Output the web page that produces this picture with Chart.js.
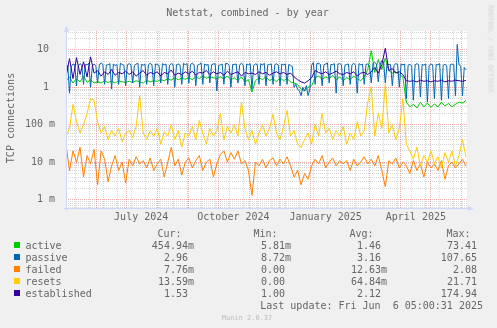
<!DOCTYPE html>
<html>
<head>
<meta charset="utf-8">
<title>Netstat, combined - by year</title>
<script src="https://cdn.jsdelivr.net/npm/chart.js@4.4.1/dist/chart.umd.min.js"></script>
<style>
  html, body { margin: 0; padding: 0; background: #f0f0f0; }
  #wrap {
    position: relative; width: 497px; height: 328px; overflow: hidden; background: #f0f0f0;
    font-family: "DejaVu Sans Mono", monospace; font-size: 10px; line-height: 12px; color: #666666;
  }
  #wrap canvas { position: absolute; left: 0; top: 0; }
  .t { position: absolute; white-space: pre; }
  .sq { position: absolute; width: 6px; height: 6px; }
</style>
</head>
<body>
<div id="wrap">
  <canvas id="netstat-chart" width="497" height="328"></canvas>
</div>
<script>
// Series values, one sample every 3.5 days starting at the left edge (2 May 2024)
var active = [
  1.5, 1.9, 1.3, 1.7, 1.4, 2.0, 1.35, 1.6, 1.3,
  1.4, 1.3, 1.5, 1.35, 1.45, 1.3, 1.5, 1.4, 1.35,
  1.45, 1.35, 1.5, 1.4, 1.3, 1.55, 1.4, 1.5,
  1.45, 1.6, 1.5, 1.7, 1.55, 1.8, 1.6, 1.75, 1.65,
  1.8, 1.6, 1.9, 1.7, 2.0, 1.75, 1.9, 1.8, 1.7,
  1.9, 1.7, 2.0, 1.6, 1.8, 1.5, 1.9, 1.4, 1.6,
  0.75, 1.5, 1.8, 1.6, 1.9, 1.5, 1.7, 1.4,
  1.8, 1.5, 1.7, 1.4, 1.3, 1.2, 0.9, 0.8, 1.0,
  1.1, 1.8, 2.0, 1.6, 1.9, 1.7, 2.1, 1.6, 1.9,
  1.5, 1.8, 1.6, 2.0, 1.7, 1.5, 1.9, 3.0,
  9.5, 2.5, 5.5, 3.0, 6.0, 2.8, 2.4, 2.6, 2.2,
  1.9, 0.4, 0.3, 0.35, 0.28, 0.4, 0.3, 0.38, 0.29,
  0.36, 0.3, 0.4, 0.32, 0.37, 0.3, 0.35, 0.4, 0.38, 0.45
];
// passive has a strong weekly pattern, so it is read at a finer step (4 per week)
var passive = [
  1.8, 3.9, 0.7, 3.6,   4.2, 4.0, 1.1, 3.8,   4.3, 3.9, 1.2, 4.1,   4.0, 4.4, 1.0, 3.7,
  4.2, 3.8, 1.3, 4.0,   4.5, 4.1, 1.2, 3.9,   4.0, 4.3, 0.9, 4.2,   3.8, 4.1, 1.2, 4.4,
  4.1, 3.9, 1.1, 4.0,   4.3, 4.0, 1.3, 3.8,   4.2, 4.4, 1.0, 4.1,   3.9, 4.2, 1.2, 4.0,
  4.4, 4.0, 1.1, 4.2,   4.1, 3.8, 1.3, 4.3,   4.0, 4.2, 1.2, 3.9,   4.3, 4.1, 1.0, 4.0,
  4.2, 3.9, 1.2, 4.4,   4.0, 4.3, 1.3, 4.1,   4.4, 4.0, 1.1, 3.9,   4.1, 4.5, 1.2, 4.2,
  3.9, 4.1, 1.3, 4.0,   4.2, 4.3, 0.8, 3.8,   4.0, 4.2, 1.2, 4.4,   4.3, 3.9, 1.0, 4.1,
  4.1, 4.2, 1.3, 4.0,   4.4, 4.0, 1.1, 4.2,   4.0, 4.3, 0.9, 3.9,   4.2, 4.1, 1.2, 4.3,
  3.9, 4.4, 1.1, 4.0,   4.1, 4.2, 1.2, 4.0,   4.3, 3.9, 1.1, 4.2,   4.0, 4.2, 1.2, 4.1,
  3.8, 3.6, 1.0, 1.2,   0.9, 0.8, 0.6, 1.0,   0.8, 1.1, 0.6, 0.9,   3.9, 4.6, 1.2, 4.3,
  4.4, 4.1, 1.1, 4.0,   4.2, 4.5, 1.3, 4.1,   4.0, 4.3, 0.7, 4.2,   4.3, 4.0, 1.1, 3.9,
  4.1, 4.2, 1.2, 4.0,   4.4, 3.9, 0.7, 4.3,   4.0, 4.2, 1.2, 4.1,   4.2, 3.8, 1.3, 4.4,
  4.6, 4.2, 1.4, 4.0,   5.2, 4.8, 1.3, 4.2,   4.1, 4.0, 1.1, 3.9,   4.3, 4.1, 1.0, 4.2,
  4.0, 4.2, 0.5, 3.9,   4.1, 3.8, 0.45, 4.0,  4.3, 4.0, 0.55, 4.1,  3.9, 4.2, 0.4, 3.8,
  4.2, 4.0, 0.5, 4.1,   4.0, 4.3, 0.45, 3.9,  4.1, 3.8, 0.5, 4.0,   4.2, 4.0, 0.6, 14,
  4.0, 3.7, 0.6, 3.4,   2.96
];
var failed = [
  0.03, 0.006, 0.02, 0.01, 0.025, 0.004, 0.015, 0.009, 0.022,
  0.0025, 0.02, 0.012, 0.003, 0.008, 0.015, 0.006, 0.01, 0.0028,
  0.012, 0.008, 0.014, 0.009, 0.011, 0.007, 0.013, 0.006,
  0.009, 0.012, 0.004, 0.01, 0.025, 0.008, 0.012, 0.0045, 0.01,
  0.013, 0.007, 0.011, 0.015, 0.006, 0.01, 0.012, 0.004, 0.009,
  0.016, 0.02, 0.01, 0.018, 0.012, 0.02, 0.009, 0.011, 0.006,
  0.0013, 0.01, 0.008, 0.012, 0.007, 0.011, 0.013, 0.008,
  0.012, 0.009, 0.014, 0.008, 0.004, 0.006, 0.0025, 0.005, 0.0035,
  0.008, 0.012, 0.009, 0.015, 0.007, 0.01, 0.013, 0.008, 0.011,
  0.009, 0.011, 0.006, 0.012, 0.008, 0.01, 0.014, 0.009,
  0.012, 0.008, 0.015, 0.006, 0.0022, 0.011, 0.009, 0.013, 0.007,
  0.01, 0.008, 0.005, 0.011, 0.006, 0.009, 0.004, 0.01, 0.007,
  0.009, 0.006, 0.011, 0.0035, 0.008, 0.01, 0.007, 0.009, 0.012, 0.0078
];
var resets = [
  0.05, 0.08, 0.35, 0.12, 0.06, 0.1, 0.2, 0.5, 0.45,
  0.12, 0.06, 0.09, 0.04, 0.07, 0.05, 0.08, 0.035, 0.06,
  0.07, 0.045, 0.09, 0.6, 0.06, 0.04, 0.07, 0.05,
  0.08, 0.03, 0.065, 0.05, 0.1, 0.04, 0.07, 0.025, 0.06,
  0.05, 0.09, 0.04, 0.13, 0.06, 0.03, 0.08, 0.05, 0.07,
  0.2, 0.04, 0.09, 0.06, 0.1, 0.05, 0.4, 0.08, 0.04,
  0.07, 0.03, 0.06, 0.1, 0.05, 0.08, 0.19, 0.06,
  0.04, 0.09, 0.24, 0.05, 0.07, 0.03, 0.025, 0.04, 0.06,
  0.03, 0.1, 0.05, 0.2, 0.06, 0.08, 0.04, 0.07, 0.05,
  0.09, 0.03, 0.06, 0.04, 0.12, 0.05, 0.07, 0.4,
  1.0, 0.05, 0.2, 0.08, 1.2, 0.06, 0.1, 0.04, 0.08,
  0.5, 0.03, 0.02, 0.012, 0.025, 0.008, 0.015, 0.01, 0.02,
  0.009, 0.014, 0.007, 0.018, 0.01, 0.02, 0.008, 0.015, 0.04, 0.0136
];
var established = [
  2.0, 5.8, 1.7, 6.2, 2.2, 4.8, 1.9, 6.5, 2.4,
  2.8, 2.0, 2.6, 2.2, 3.0, 2.1, 2.5, 2.3, 2.7,
  2.2, 2.6, 2.0, 2.4, 2.8, 2.1, 2.5, 2.3,
  2.6, 2.0, 2.5, 2.3, 2.9, 2.1, 2.4, 2.2, 2.6,
  2.3, 2.7, 2.1, 2.5, 2.4, 2.8, 2.2, 2.6, 2.3,
  2.5, 2.1, 2.7, 2.2, 2.4, 2.6, 2.0, 2.5, 2.3,
  2.4, 2.2, 2.6, 2.3, 2.5, 2.1, 2.4, 2.6,
  2.3, 2.5, 2.2, 2.4, 1.9, 1.6, 1.4, 1.3, 1.5,
  1.8, 2.8, 2.5, 2.3, 2.6, 2.2, 2.4, 2.7, 2.3,
  2.2, 2.5, 2.3, 2.6, 2.0, 2.4, 2.5, 2.2,
  2.6, 3.4, 2.4, 4.0, 11, 2.8, 3.2, 2.4, 2.6,
  2.2, 1.5, 1.45, 1.5, 1.4, 1.55, 1.45, 1.5, 1.4,
  1.5, 1.45, 1.55, 1.4, 1.5, 1.45, 1.55, 1.5, 1.45, 1.53
];

var seriesNames = ['active', 'passive', 'failed', 'resets', 'established'];
var seriesColors = ['#00cc00', '#0066b3', '#ff8000', '#ffcc00', '#330099'];
var seriesData = [active, passive, failed, resets, established];
var seriesStep = [3.5, 1.75, 3.5, 3.5, 3.5];   // days between samples

// legend table (unit char or trailing space, as munin prints it)
var curValues = ['454.94m', '2.96 ', '7.76m', '13.59m', '1.53 '];
var minValues = ['5.81m', '8.72m', '0.00 ', '0.00 ', '1.00 '];
var avgValues = ['1.46 ', '3.16 ', '12.63m', '64.84m', '2.12 '];
var maxValues = ['73.41 ', '107.65 ', '2.08 ', '21.71 ', '174.94 '];
var lastUpdate = 'Last update: Fri Jun  6 05:00:31 2025';

// time axis
var START = Date.UTC(2024, 4, 2);
var SPAN = 400;      // days shown
var monthLines = ['2024-06-01', '2024-07-01', '2024-08-01', '2024-09-01', '2024-10-01', '2024-11-01',
  '2024-12-01', '2025-01-01', '2025-02-01', '2025-03-01', '2025-04-01', '2025-05-01', '2025-06-01'];
var firstMinorLine = '2024-05-11';
var xLabels = ['July 2024', 'October 2024', 'January 2025', 'April 2025'];
var xLabelDates = ['2024-07-16', '2024-10-16', '2025-01-16', '2025-04-16'];

// value axis
var yMin = 0.00056, yMax = 32;
var yMajor = [0.001, 0.01, 0.1, 1, 10];
var yLabels = ['1 m', '10 m', '100 m', '1 ', '10 '];

var GRID = 'rgba(128, 128, 128, 0.32)';
var MGRID = 'rgba(225, 70, 70, 0.42)';
var AXIS = '#cfd6f8';
var FONT = 'DejaVu Sans Mono';

function dayOf(s) {
  var p = s.split('-');
  return (Date.UTC(+p[0], +p[1] - 1, +p[2]) - START) / 86400000;
}

// x ticks: minor lines every two weeks, month lines, and centred quarter labels
var xTicks = [];
var monthDays = monthLines.map(dayOf);
for (var d = dayOf(firstMinorLine); d < SPAN; d += 14) {
  if (monthDays.indexOf(d) < 0) xTicks.push({ value: d, kind: 'minor', text: '' });
}
monthDays.forEach(function (d) { xTicks.push({ value: d, kind: 'major', text: '' }); });
xLabelDates.forEach(function (s, i) { xTicks.push({ value: dayOf(s), kind: 'label', text: xLabels[i] }); });
xTicks.sort(function (a, b) { return a.value - b.value; });

// y ticks: decades plus 2..9 in between
var yTicks = [];
for (var e = -4; e <= 1; e++) {
  for (var m = 1; m <= 9; m++) {
    var v = m * Math.pow(10, e);
    if (v < yMin || v > yMax) continue;
    var k = yMajor.indexOf(Math.pow(10, e));
    if (m === 1 && k >= 0) yTicks.push({ value: yMajor[k], kind: 'major', text: yLabels[k] });
    else yTicks.push({ value: v, kind: 'minor', text: '' });
  }
}

function createNetstatChart() {
  var ctx = document.getElementById('netstat-chart').getContext('2d');

  var datasets = seriesNames.map(function (name, s) {
    return {
      label: name,
      data: seriesData[s].map(function (y, i) { return { x: i * seriesStep[s], y: y }; }),
      borderColor: seriesColors[s],
      backgroundColor: seriesColors[s],
      borderWidth: 1,
      pointRadius: 0,
      tension: 0,
      fill: false,
      order: seriesNames.length - s   // later series on top, like rrdtool
    };
  });

  var plotBackground = {
    id: 'plotBackground',
    beforeDraw: function (chart) {
      var a = chart.chartArea, c = chart.ctx;
      c.save();
      c.fillStyle = '#ffffff';
      c.fillRect(a.left, a.top, a.right - a.left, a.bottom - a.top);
      c.restore();
    }
  };

  var axisArrows = {
    id: 'axisArrows',
    afterDatasetsDraw: function (chart) {
      var a = chart.chartArea, c = chart.ctx;
      c.save();
      c.strokeStyle = AXIS;
      c.fillStyle = AXIS;
      c.lineWidth = 1;
      c.beginPath();
      c.moveTo(a.left - 2, a.bottom - 0.5);
      c.lineTo(a.right + 2, a.bottom - 0.5);
      c.moveTo(a.left + 0.5, a.bottom + 2);
      c.lineTo(a.left + 0.5, a.top);
      c.stroke();
      c.beginPath();
      c.moveTo(a.right + 1, a.bottom - 3);
      c.lineTo(a.right + 6.5, a.bottom - 0.5);
      c.lineTo(a.right + 1, a.bottom + 2);
      c.closePath();
      c.fill();
      c.beginPath();
      c.moveTo(a.left - 2, a.top + 1);
      c.lineTo(a.left + 0.5, a.top - 5.5);
      c.lineTo(a.left + 3, a.top + 1);
      c.closePath();
      c.fill();
      c.restore();
    }
  };

  new Chart(ctx, {
    type: 'line',
    data: { datasets: datasets },
    plugins: [plotBackground, axisArrows],
    options: {
      responsive: false,
      animation: false,
      devicePixelRatio: 1,
      layout: { padding: { left: 0, right: 30, top: 31, bottom: 99 } },
      scales: {
        x: {
          type: 'linear',
          min: 0,
          max: SPAN,
          afterBuildTicks: function (axis) { axis.ticks = xTicks.slice(); },
          afterFit: function (axis) { axis.height = 20; },
          grid: {
            drawTicks: false,
            lineWidth: 1,
            color: function (c) {
              if (!c.tick) return GRID;
              if (c.tick.kind === 'label') return 'rgba(0,0,0,0)';
              return c.tick.kind === 'major' ? MGRID : GRID;
            }
          },
          border: { display: false, dash: [1, 1] },
          ticks: {
            autoSkip: false,
            maxRotation: 0,
            padding: 2,
            color: '#666666',
            font: { family: FONT, size: 10 },
            callback: function (value, index, ticks) { return ticks[index].text || ''; }
          }
        },
        y: {
          type: 'logarithmic',
          min: yMin,
          max: yMax,
          afterBuildTicks: function (axis) { axis.ticks = yTicks.slice(); },
          afterFit: function (axis) { axis.width = 66; },
          grid: {
            drawTicks: false,
            lineWidth: 1,
            color: function (c) { return c.tick && c.tick.kind === 'major' ? MGRID : GRID; }
          },
          border: { display: false, dash: [1, 1] },
          ticks: {
            autoSkip: false,
            padding: 11,
            color: '#666666',
            font: { family: FONT, size: 10 },
            callback: function (value, index, ticks) { return ticks[index].text || ''; }
          }
        }
      },
      plugins: {
        legend: { display: false },
        tooltip: { enabled: false },
        title: { display: false }
      }
    }
  });
}

// texts around the plot
function addText(text, pos, css) {
  var el = document.createElement('div');
  el.className = 't';
  el.textContent = text;
  for (var k in pos) el.style[k] = pos[k];
  if (css) for (var j in css) el.style[j] = css[j];
  document.getElementById('wrap').appendChild(el);
  return el;
}

function buildTexts() {
  addText('Netstat, combined - by year', { left: '0px', width: '495px', top: '7px' }, { textAlign: 'center' });

  addText('TCP connections', { left: '-49.5px', top: '112px', width: '120px' },
    { textAlign: 'center', transform: 'rotate(-90deg)' });

  addText('RRDTOOL / TOBI OETIKER', { left: '445px', top: '44.5px', width: '91px' },
    { textAlign: 'center', transform: 'rotate(90deg)', fontSize: '6.6px', lineHeight: '8px', color: '#d4d4d4' });

  addText('Cur:', { left: '157.5px', top: '228px' });
  addText('Min:', { left: '253.5px', top: '228px' });
  addText('Avg:', { left: '349.5px', top: '228px' });
  addText('Max:', { left: '446.5px', top: '228px' });

  var wrap = document.getElementById('wrap');
  seriesNames.forEach(function (name, i) {
    var top = 240 + i * 12;
    var sq = document.createElement('div');
    sq.className = 'sq';
    sq.style.left = '14px';
    sq.style.top = (top + 2) + 'px';
    sq.style.background = seriesColors[i];
    wrap.appendChild(sq);
    addText(name, { left: '25.5px', top: top + 'px' });
    addText(curValues[i], { right: (497 - 194) + 'px', top: top + 'px' }, { textAlign: 'right' });
    addText(minValues[i], { right: (497 - 291) + 'px', top: top + 'px' }, { textAlign: 'right' });
    addText(avgValues[i], { right: (497 - 387) + 'px', top: top + 'px' }, { textAlign: 'right' });
    addText(maxValues[i], { right: (497 - 483) + 'px', top: top + 'px' }, { textAlign: 'right' });
  });

  addText(lastUpdate, { right: (497 - 483) + 'px', top: '300px' }, { textAlign: 'right' });

  addText('Munin 2.0.37', { left: '0px', width: '494px', top: '314px' },
    { textAlign: 'center', fontSize: '7px', lineHeight: '8px', color: '#bdbdbd' });
}

document.addEventListener('DOMContentLoaded', function () {
  buildTexts();
  createNetstatChart();
});
</script>
</body>
</html>
